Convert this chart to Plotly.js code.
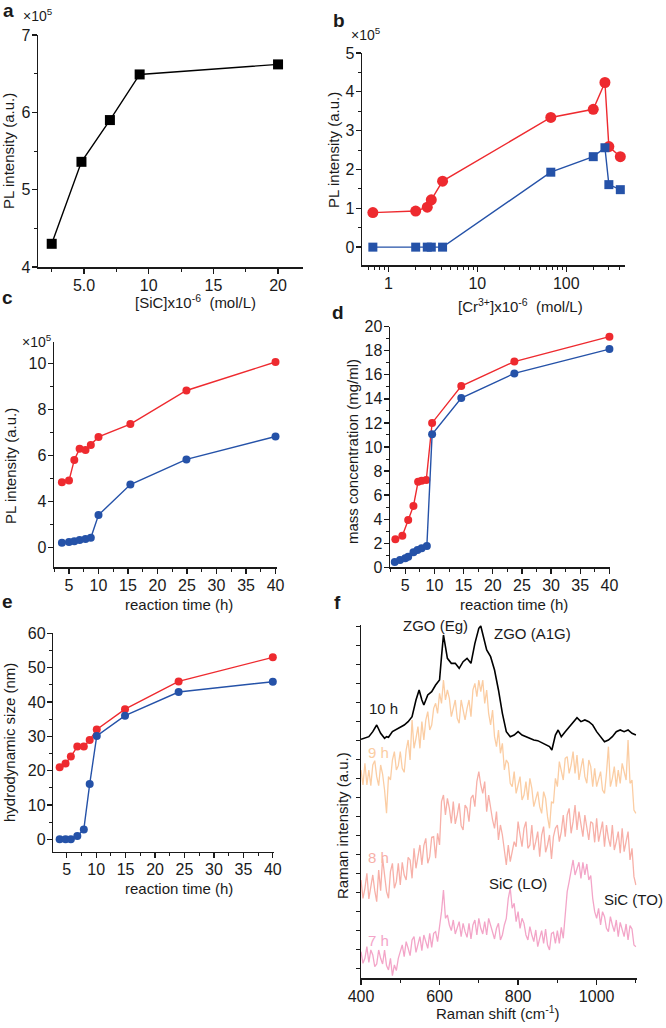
<!DOCTYPE html>
<html><head><meta charset="utf-8">
<script src="https://cdn.plot.ly/plotly-3.0.1.min.js"></script>
<style>html,body{margin:0;padding:0;background:#fff}#chart{width:666px;height:1028px}</style>
</head><body><div id="chart"></div>
<script>
// ---------- panel a ----------
const sicConc = [2.5, 4.8, 7.0, 9.3, 20];
const plA = [4.30, 5.36, 5.90, 6.49, 6.62];
// ---------- panel b ----------
const crConc = [0.67, 2.03, 2.74, 3.04, 4.07, 67, 201, 272, 301, 405];
const plB_red = [0.89, 0.93, 1.03, 1.22, 1.70, 3.34, 3.55, 4.24, 2.59, 2.33];
const plB_blue = [0, 0, 0, 0, 0, 1.93, 2.33, 2.56, 1.61, 1.48];
// ---------- panel c ----------
const timeC = [3.8, 5.0, 5.9, 6.8, 7.8, 8.7, 10.0, 15.4, 24.9, 40];
const plC_red = [4.83, 4.90, 5.80, 6.29, 6.23, 6.45, 6.80, 7.36, 8.82, 10.06];
const plC_blue = [2.19, 2.23, 2.26, 2.32, 2.36, 2.41, 3.40, 4.73, 5.82, 6.82];
const plC_tickVals = [2, 4, 6, 8, 10];
const plC_tickText = ["0", "4", "6", "8", "10"];
// ---------- panel d ----------
const timeD_red = [3.3, 4.5, 5.5, 6.4, 7.2, 7.8, 8.6, 9.6, 14.6, 23.7, 40];
const massD_red = [2.33, 2.63, 3.93, 5.10, 7.12, 7.20, 7.26, 12.0, 15.07, 17.1, 19.17];
const timeD_blue = [3.2, 4.1, 5.0, 5.5, 6.4, 7.1, 7.8, 8.7, 9.6, 14.6, 23.7, 40];
const massD_blue = [0.44, 0.61, 0.75, 0.88, 1.25, 1.44, 1.58, 1.77, 11.05, 14.07, 16.12, 18.14];
// ---------- panel e ----------
const timeE = [3.8, 4.8, 5.7, 6.8, 7.9, 8.9, 10.1, 14.9, 24.0, 40];
const sizeE_red = [21.0, 22.1, 24.1, 27.0, 27.0, 28.9, 32.0, 37.9, 46.0, 53.0];
const sizeE_blue = [0, 0, 0, 0.97, 2.9, 16.1, 30.1, 36.0, 42.9, 45.9];
// ---------- panel f (Raman) ----------
const shift10h = [400,410,420,430,440,450,460,465,470,480,490,500,510,520,530,540,548,555,560,570,580,590,600,605,610,615,620,630,640,650,660,670,680,690,700,705,710,720,730,740,750,760,770,780,790,800,810,820,830,840,850,860,870,880,886,895,902,910,920,930,940,950,960,970,980,990,1000,1010,1020,1030,1040,1050,1060,1070,1080,1090,1100];
const raman10h = [71.7,72,72.5,74,76,73.5,72,72.5,72.3,74,74.7,75.5,76,77,78.5,83.5,86.5,83.5,82,85,86,88,89.5,96.5,103,99.5,96,94.5,94.5,93,95,96,94.5,100.5,105,105.7,103.5,98.5,96.5,92.5,86.5,79.5,74,72.5,73,74,73,72.5,72,71.5,71.3,70.7,70.3,69.5,68.5,73,74.5,72.5,74,75.5,77,78.2,77,77.5,77,76,74,72.5,71,71.5,72.5,74,74.5,74,74.5,73.5,73];
const ramanShift = [
400,405,410,415,420,425,430,435,440,445,450,455,460,465,470,475,480,485,490,495,
500,505,510,515,520,525,530,535,540,545,550,555,560,565,570,575,580,585,590,595,
600,605,610,615,620,625,630,635,640,645,650,655,660,665,670,675,680,685,690,695,
700,705,710,715,720,725,730,735,740,745,750,755,760,765,770,775,780,785,790,795,
800,805,810,815,820,825,830,835,840,845,850,855,860,865,870,875,880,885,890,895,
900,905,910,915,920,925,930,935,940,945,950,955,960,965,970,975,980,985,990,995,
1000,1005,1010,1015,1020,1025,1030,1035,1040,1045,1050,1055,1060,1065,1070,1075,1080,1085,1090,1095,
1100];
const raman9h = [
62.5,58,64.5,58,62.5,57.8,64,65.3,60.5,57.8,64,61.3,56.5,49.5,60.5,59.5,65.5,68,62.5,63.8,
68,63,61.8,68.5,71.5,65.5,77.5,69,72,75.5,69,77,71.5,77.5,80,74.5,76,81,82.5,79.5,
85.5,82.5,89.5,83.5,86.5,84,78.5,81,83.5,78,76.5,83.5,80.5,77.5,81,83.5,78.5,86.5,88.5,84.5,
89.5,86,89.5,82.5,86.5,79.5,76,80.5,72.5,69.5,74.5,67.5,70.5,62.5,65.5,64.5,58.5,57.5,62,55.5,
58,60.5,53.5,55,59,53.5,60,57,51.5,54,56,51.5,49.5,56,54,48.5,45,53,52.5,60,
57.5,65,62,59.5,66,66.5,61.5,64,68,61.5,67,59.5,63,66,60.5,58.5,65.5,63.5,57.5,63,
57.5,60,62,56.5,55.5,61.5,69.5,57.5,60,63.5,57.5,62.5,58.5,64.5,62,59.5,71.5,58.5,59.5,50.5,
49.5];
const raman8h = [
29.5,24,27,31.5,23.8,28,31,26.3,23,32.5,26.3,36,30.5,26,24,32,34.5,27,29,34.5,
28,34.8,31,29.5,36.3,35.5,30,39,33,36,40,34,39.8,42,34.5,36.5,42.3,42.5,36,43.5,
40,53,55,49,54,51,46.5,53,46.3,49,52.5,45.8,44.5,52,51,47,54,55,51.5,59,
62,58,55.5,59,50,55,51,47.5,45,50,41.5,46,43,38,34,40,35,38,41,39.5,
47,43,39.5,45,47,39,40,46,38.5,41,44,36.5,43,45.5,37.8,40,43,35.8,42.5,45,
46,41,44,49,42.5,49,51,43.5,47,52,44.5,50,46,42.5,49,45,41.5,47,46.5,40.8,
48,41,44,47,39.5,46,42,39.5,46,38.5,41,44,37.5,45,38,41,44,35.5,39,30.5,
28];
const raman7h = [
8,4.5,6,9.5,4.8,8.5,7,3.5,4.3,8.5,6,4.3,8.5,3.8,2.5,6,0.8,4,2.3,6,
8,10,6.5,11,9,6.8,11.5,12.5,7.8,10,12.5,8.3,13,11,9,13.5,9.3,13.5,14,11,
15,20,26.5,18,19,16,14.3,17.5,13.3,15,17,12.5,16.5,14,12.3,16.5,11.8,16,17.5,13,
18,15,13.3,17,13,18,16,13.3,11.8,15,16.5,11.5,13,16,18,24,27,21,22.5,17,
20,15,18,16.5,13,11.5,15.5,13,11,14.5,9.5,12,14.3,10.5,14.8,10,8.5,13.5,13.8,10.5,
14.3,10.5,15.3,12,19,26,29,32.5,35.5,31,33,34.8,30,34.8,31,34.3,29.5,30.8,24,20,
18,21,16,20,18.5,15,14,18.5,16,14,17.5,12.5,16.8,15,12.5,16.3,11.5,15.8,14.8,10,
9.5];

// ---------- styling ----------
const W = 666, H = 1028;
const FONT = 'Liberation Sans, Arial, Helvetica, sans-serif';
const INK = '#1a1a1a';
const RED = '#ee2a2f', BLUE = '#2552a8';
const C9 = '#fbcda3', C8 = '#f7b0a8', C7 = '#f3a5c8';
const dx = (a, b) => [a / W, b / W];
const dy = (top, bot) => [1 - bot / H, 1 - top / H];

function ax(extra) {
  return Object.assign({
    showline: true, linecolor: INK, linewidth: 1.5,
    ticks: 'outside', ticklen: 5, tickwidth: 1.3, tickcolor: INK,
    showgrid: false, zeroline: false, fixedrange: true,
    ticklabelstandoff: -2,
    tickfont: {family: FONT, size: 16, color: INK}
  }, extra);
}
const minorStyle = (o) => Object.assign({ticks: 'outside', ticklen: 3, tickwidth: 1, tickcolor: INK, showgrid: false}, o);

function line(x, y, xa, ya, color, sym, size, w) {
  return {x: x, y: y, xaxis: xa, yaxis: ya, type: 'scatter', mode: 'lines+markers',
    line: {color: color, width: w || 1.4}, marker: {color: color, symbol: sym, size: size},
    cliponaxis: false, hoverinfo: 'skip'};
}
function spec(x, y, color, w) {
  return {x: x, y: y, xaxis: 'x6', yaxis: 'y6', type: 'scatter', mode: 'lines',
    line: {color: color, width: w || 1.3}, hoverinfo: 'skip'};
}

const traces = [
  line(sicConc, plA, 'x', 'y', '#000', 'square', 10, 1.4),
  line(crConc, plB_red, 'x2', 'y2', RED, 'circle', 11, 1.4),
  line(crConc, plB_blue, 'x2', 'y2', BLUE, 'square', 9, 1.4),
  line(timeC, plC_red, 'x3', 'y3', RED, 'circle', 8, 1.4),
  line(timeC, plC_blue, 'x3', 'y3', BLUE, 'circle', 8, 1.4),
  line(timeD_red, massD_red, 'x4', 'y4', RED, 'circle', 8, 1.4),
  line(timeD_blue, massD_blue, 'x4', 'y4', BLUE, 'circle', 8, 1.4),
  line(timeE, sizeE_red, 'x5', 'y5', RED, 'circle', 8, 1.4),
  line(timeE, sizeE_blue, 'x5', 'y5', BLUE, 'circle', 8, 1.4),
  spec(ramanShift, raman7h, C7),
  spec(ramanShift, raman8h, C8),
  spec(ramanShift, raman9h, C9),
  spec(shift10h, raman10h, '#000', 1.6)
];

const logMinor = [0.6,0.7,0.8,0.9,2,3,4,5,6,7,8,9,20,30,40,50,60,70,80,90,200,300,400];

const layout = {
  width: W, height: H, margin: {l: 0, r: 0, t: 0, b: 0},
  paper_bgcolor: '#fff', plot_bgcolor: 'rgba(0,0,0,0)', showlegend: false,
  font: {family: FONT, size: 15, color: INK},
  // a
  xaxis: ax({domain: dx(38, 303), anchor: 'y', range: [1.44, 21.93],
    tickvals: [5, 10, 15, 20], ticktext: ['5.0', '10', '15', '20'],
    minor: minorStyle({tickvals: [2.5, 7.5, 12.5, 17.5]})}),
  yaxis: ax({domain: dy(35, 267), anchor: 'x', range: [4, 7], dtick: 1,
    minor: minorStyle({dtick: 0.5})}),
  // b
  xaxis2: ax({domain: dx(362, 625), anchor: 'y2', type: 'log', range: [-0.296, 2.66],
    tickvals: [1, 10, 100], ticktext: ['1', '10', '100'],
    minor: minorStyle({tickvals: logMinor})}),
  yaxis2: ax({domain: dy(53, 265), anchor: 'x2', range: [-0.46, 5], dtick: 1,
    minor: minorStyle({dtick: 0.5, tick0: 0})}),
  // c
  xaxis3: ax({domain: dx(54, 277), anchor: 'y3', range: [2.46, 40.25], dtick: 5, tick0: 0,
    minor: minorStyle({dtick: 2.5, tick0: 0})}),
  yaxis3: ax({domain: dy(342, 567), anchor: 'x3', range: [1.14, 10.93],
    tickvals: plC_tickVals, ticktext: plC_tickText,
    minor: minorStyle({tickvals: [3, 5, 7, 9]})}),
  // d
  xaxis4: ax({domain: dx(390, 610), anchor: 'y4', range: [2.38, 40.1], dtick: 5, tick0: 0,
    minor: minorStyle({dtick: 2.5, tick0: 0})}),
  yaxis4: ax({domain: dy(326.7, 567.3), anchor: 'x4', range: [0, 20], dtick: 2,
    minor: minorStyle({dtick: 1})}),
  // e
  xaxis5: ax({domain: dx(53.3, 274), anchor: 'y5', range: [2.72, 40.2], dtick: 5, tick0: 0,
    minor: minorStyle({dtick: 2.5, tick0: 0})}),
  yaxis5: ax({domain: dy(633.3, 851.7), anchor: 'x5', range: [-3.6, 60], dtick: 10, tick0: 0,
    minor: minorStyle({dtick: 5, tick0: 0})}),
  // f
  xaxis6: ax({domain: dx(361, 636.7), anchor: 'y6', range: [400, 1102], dtick: 200, tick0: 0,
    minor: minorStyle({dtick: 100, tick0: 0})}),
  yaxis6: ax({domain: dy(625, 978.3), anchor: 'x6', range: [0, 106], showticklabels: false,
    dtick: 5.7, tick0: 3, ticklen: 4})
};

function A(text, px, py, o) {
  return Object.assign({text: text, x: px / W, y: 1 - py / H, xref: 'paper', yref: 'paper',
    showarrow: false, xanchor: 'center', yanchor: 'middle',
    font: {family: FONT, size: 15, color: INK}}, o || {});
}
const big = {font: {family: FONT, size: 19, color: INK}};
const rot = {textangle: -90};
const small = {font: {family: FONT, size: 14, color: INK}};
layout.annotations = [
  A('<b>a</b>', 8, 11, big),
  A('×10<sup>5</sup>', 38, 15, small),
  A('PL intensity (a.u.)', 8, 151, rot),
  A('[SiC]x10<sup>-6</sup>  (mol/L)', 196, 301),
  A('<b>b</b>', 339, 20, big),
  A('×10<sup>5</sup>', 366, 34, small),
  A('PL intensity (a.u.)', 333, 150, rot),
  A('[Cr<sup>3+</sup>]x10<sup>-6</sup>  (mol/L)', 520, 305),
  A('<b>c</b>', 7, 297, big),
  A('×10<sup>5</sup>', 37, 341, small),
  A('PL intensity (a.u.)', 11, 466, rot),
  A('reaction time (h)', 179, 604),
  A('<b>d</b>', 338, 312, big),
  A('mass concentration (mg/ml)', 352, 452, rot),
  A('reaction time (h)', 514, 604),
  A('<b>e</b>', 7, 601, big),
  A('hydrodynamic size (nm)', 9, 743, rot),
  A('reaction time (h)', 179, 888),
  A('<b>f</b>', 337, 602, big),
  A('Raman intensity (a.u.)', 342, 826, rot),
  A('Raman shift (cm<sup>-1</sup>)', 498, 1012),
  A('ZGO (Eg)', 435, 625),
  A('ZGO (A1G)', 532, 633),
  A('10 h', 383, 708),
  A('9 h', 378, 752, {font: {family: FONT, size: 15, color: C9}}),
  A('8 h', 378, 857, {font: {family: FONT, size: 15, color: C8}}),
  A('7 h', 378, 940, {font: {family: FONT, size: 15, color: C7}}),
  A('SiC (LO)', 518, 883),
  A('SiC (TO)', 633, 899)
];

Plotly.newPlot('chart', traces, layout, {staticPlot: true, displayModeBar: false});
</script>
</body></html>
